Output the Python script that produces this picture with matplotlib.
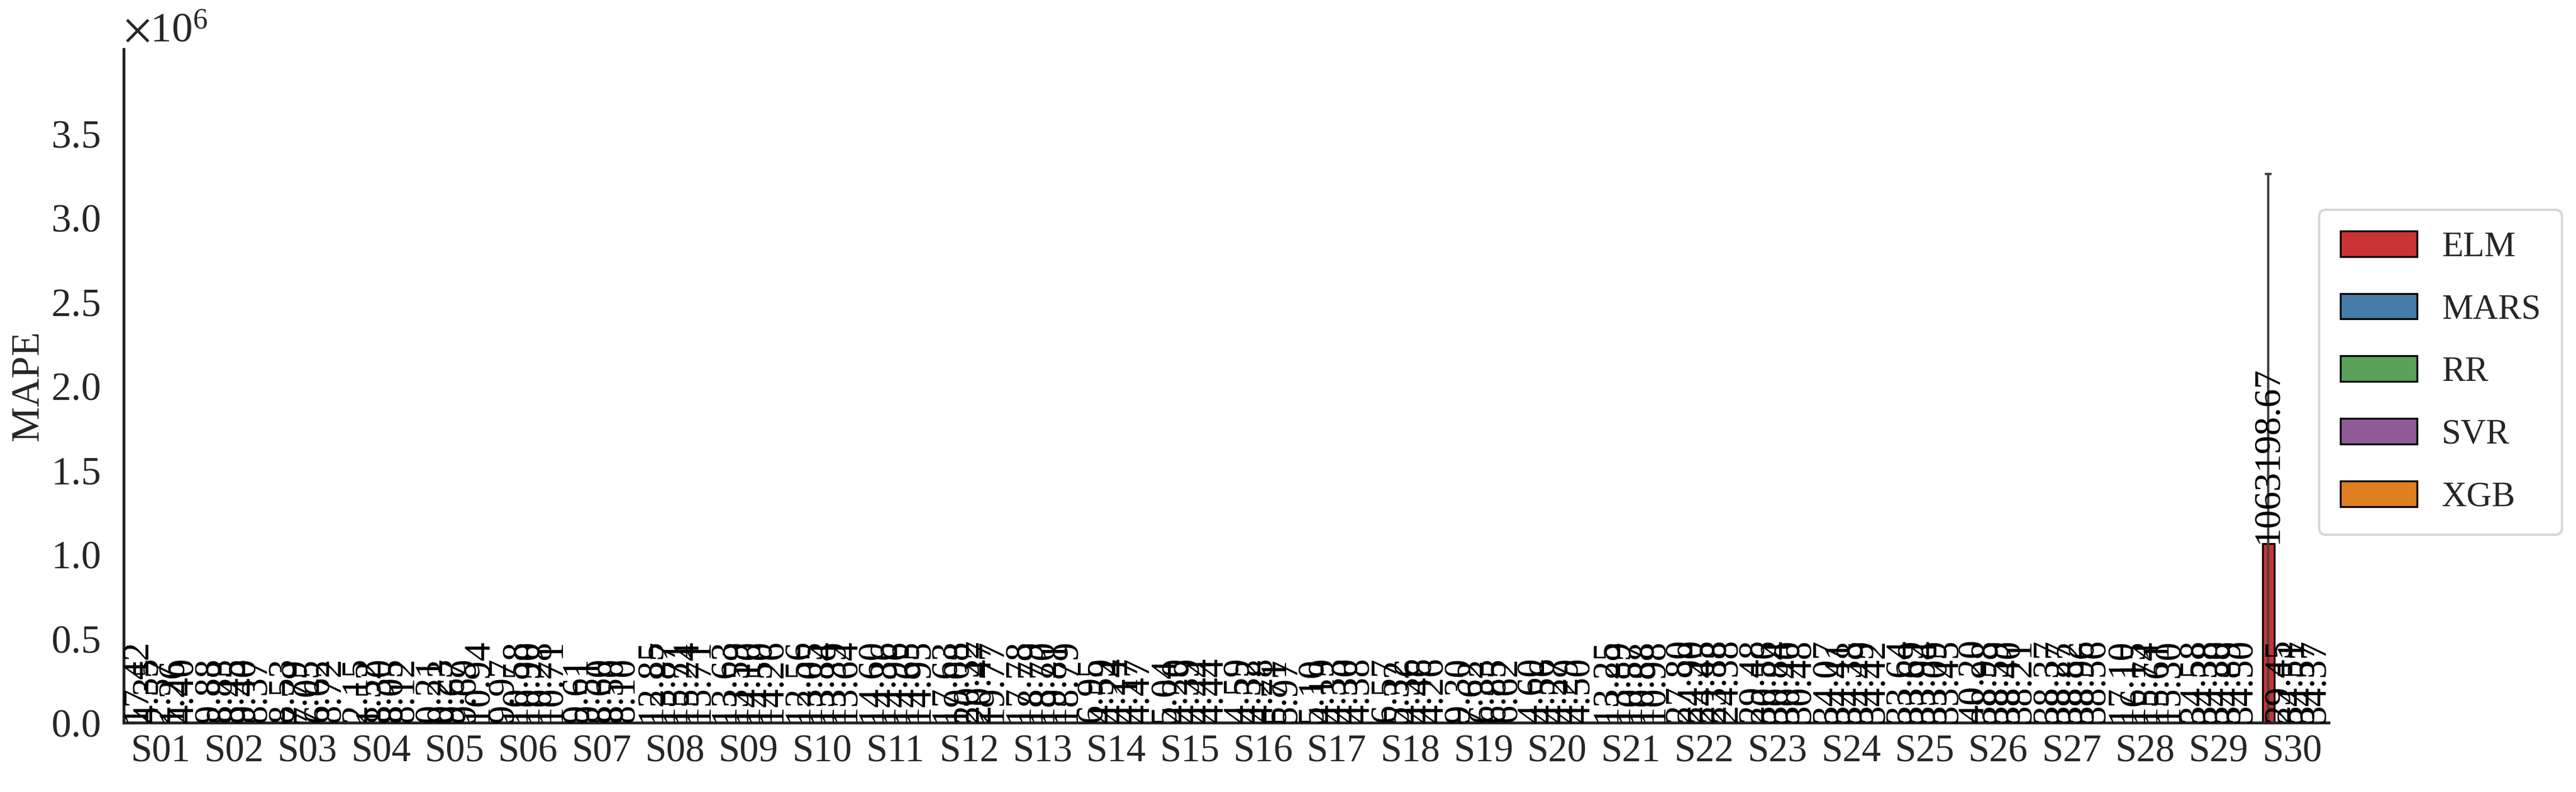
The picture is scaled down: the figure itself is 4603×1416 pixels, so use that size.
import numpy as np
import matplotlib
matplotlib.use('Agg')
import matplotlib.pyplot as plt
import seaborn as sns

sites = ['S%02d' % i for i in range(1, 31)]
models = ['ELM', 'MARS', 'RR', 'SVR', 'XGB']

elm = [17.42, 9.88, 8.53, 2.15, 0.21, 9.97, 9.61, 12.85, 13.63, 12.56,
       14.60, 17.63, 17.78, 6.95, 5.04, 4.59, 5.10, 6.57, 9.30, 4.60,
       13.25, 27.80, 29.48, 34.07, 33.64, 40.20, 38.37, 17.10, 34.58, 1063198.67]
mars = [4.35, 8.83, 7.79, 1.52, 0.23, 10.58, 9.51, 13.87, 13.59, 13.05,
        14.36, 19.08, 18.79, 4.59, 4.20, 4.32, 4.19, 5.32, 7.62, 4.56,
        13.89, 24.90, 30.56, 34.41, 33.69, 38.98, 38.27, 16.15, 34.38, 29.45]
rr = [2.57, 8.45, 7.05, 8.30, 9.67, 10.90, 8.60, 15.71, 14.10, 13.84,
      14.96, 20.32, 18.70, 4.24, 4.39, 4.28, 4.33, 4.36, 6.33, 4.27,
      10.57, 24.45, 30.84, 34.38, 33.94, 38.59, 38.82, 15.74, 34.30, 34.51]
svr = [1.26, 9.40, 6.62, 8.05, 9.69, 10.28, 8.50, 15.24, 14.50, 13.39,
       14.65, 20.47, 19.81, 4.17, 4.44, 5.71, 4.30, 4.46, 6.85, 4.29,
       10.88, 23.88, 30.40, 34.49, 33.09, 38.40, 38.96, 15.61, 34.89, 34.57]
xgb = [4.40, 8.37, 8.72, 8.12, 10.94, 10.71, 8.10, 15.71, 14.26, 13.64,
       14.95, 19.77, 18.79, 4.47, 4.44, 5.97, 4.38, 4.26, 6.62, 4.50,
       10.98, 24.38, 30.48, 34.42, 33.45, 38.21, 38.56, 15.30, 34.50, 34.37]

# error bar (spread) only visible on the S30 ELM bar
elm_err = [0.0] * 29 + [2195000.0]

series = [elm, mars, rr, svr, xgb]
colors = [sns.desaturate(c, 0.75) for c in sns.color_palette('Set1', 5)]

sns.set_style('white')
plt.rcParams['font.family'] = ['Liberation Serif', 'DejaVu Serif']
plt.rcParams['mathtext.fontset'] = 'stix'
plt.rcParams['font.size'] = 16

fig = plt.figure(figsize=(4603 / 300, 1416 / 300), dpi=300)
ax = fig.add_axes([0.048, 0.0876, 0.856, 0.8504])

x = np.arange(len(sites))
width = 0.16

for i, (name, vals) in enumerate(zip(models, series)):
    pos = x + (i - 2) * width
    ax.bar(pos, vals, width=width, color=colors[i], edgecolor='black',
           linewidth=0.8, label=name)
    for p, v in zip(pos, vals):
        ax.text(p, v, '%.2f' % v, rotation=90, ha='center', va='bottom',
                fontsize=16, color='black')

err_idx = [k for k in range(len(sites)) if elm_err[k] > 0]
ax.errorbar(x[err_idx] - 2 * width, [elm[k] for k in err_idx],
            yerr=[elm_err[k] for k in err_idx], fmt='none',
            ecolor='#424242', elinewidth=1.0, capsize=1.5)

ax.set_xlim(-0.5, 29.5)
ax.set_ylim(0, 4.0e6)
ax.set_yticks(np.arange(0, 3.6e6, 0.5e6))
ax.ticklabel_format(axis='y', style='sci', scilimits=(0, 0), useMathText=True)
ax.yaxis.get_offset_text().set_fontsize(18)
ax.set_xticks(x)
ax.set_xticklabels(sites)
ax.set_ylabel('MAPE', fontsize=17, labelpad=2)
ax.tick_params(axis='y', length=0, pad=10, labelsize=17, colors='#262626')
ax.tick_params(axis='x', length=0, pad=5, labelsize=16.5, colors='#262626')
sns.despine(ax=ax)
for s in ['left', 'bottom']:
    ax.spines[s].set_color('#262626')
    ax.spines[s].set_linewidth(1.25)

ax.legend(loc='center left', bbox_to_anchor=(0.9957, 0.52), fontsize=15,
          borderaxespad=0, handlelength=2.2, handleheight=0.75,
          handletextpad=0.7, labelspacing=0.85, borderpad=0.6)

fig.savefig('out.png', dpi=300)
